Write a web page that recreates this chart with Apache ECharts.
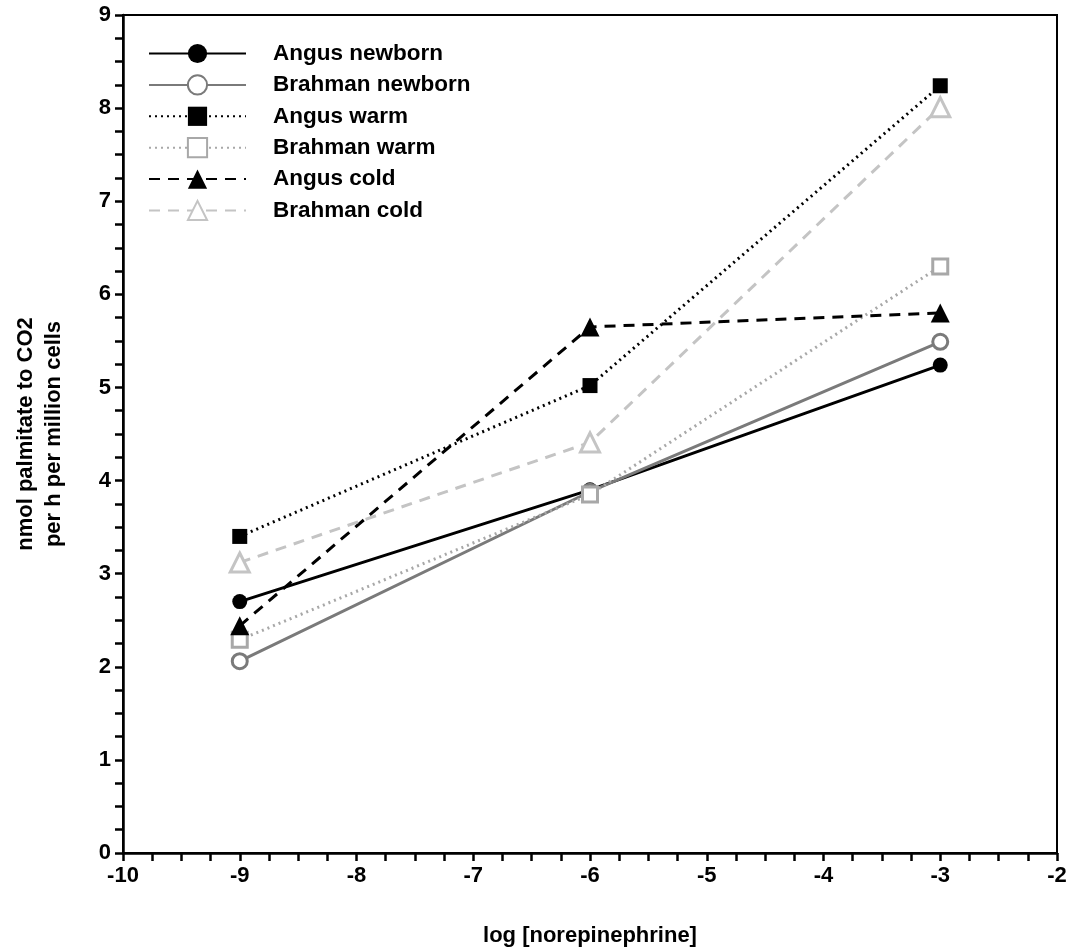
<!DOCTYPE html>
<html>
<head>
<meta charset="utf-8">
<script src="https://cdn.jsdelivr.net/npm/echarts@6/dist/echarts.min.js"></script>
<style>
  html, body { margin: 0; padding: 0; background: #fff; }
  #chart { width: 1070px; height: 952px; }
</style>
</head>
<body>
<div id="chart"></div>
<script>
// log [norepinephrine] doses
const doses = [-9, -6, -3];
const angusNewborn = [2.70, 3.90, 5.24];
const brahmanNewborn = [2.06, 3.88, 5.49];
const angusWarm = [3.40, 5.02, 8.24];
const brahmanWarm = [2.29, 3.85, 6.30];
const angusCold = [2.44, 5.65, 5.80];
const brahmanCold = [3.12, 4.41, 8.01];

const font = "'Liberation Sans', Arial, sans-serif";

function pts(vals) {
  return doses.map((d, i) => [d, vals[i]]);
}

function makeSeries(name, vals, color, dash, symbol, size, hollow) {
  return {
    name: name,
    type: "line",
    data: pts(vals),
    symbol: symbol,
    symbolSize: size,
    showSymbol: true,
    lineStyle: { color: color, width: 3, type: dash },
    itemStyle: {
      color: hollow ? "#fff" : color,
      borderColor: color,
      borderWidth: hollow ? 3 : 0,
    },
    emphasis: { disabled: true },
    z: 3,
  };
}

const chart = echarts.init(document.getElementById("chart"));
const option = {
  animation: false,
  textStyle: { fontFamily: font },
  grid: {
    left: 123,
    right: 13,
    top: 15,
    bottom: 95,
    show: true,
    borderColor: "#000",
    borderWidth: 2,
  },
  legend: {
    orient: "vertical",
    left: 143,
    top: 37,
    itemWidth: 97,
    itemHeight: 24,
    itemGap: 8.4,
    textStyle: {
      fontFamily: font,
      fontWeight: "bold",
      fontSize: 22.5,
      color: "#000",
      padding: [0, 0, 0, 22],
    },
    data: ["Angus newborn", "Brahman newborn", "Angus warm", "Brahman warm", "Angus cold", "Brahman cold"],
  },
  xAxis: {
    type: "value",
    min: -10,
    max: -2,
    interval: 1,
    name: "log [norepinephrine]",
    nameLocation: "middle",
    nameGap: 72,
    nameTextStyle: { fontFamily: font, fontWeight: "bold", fontSize: 22, color: "#000" },
    axisLine: { show: true, lineStyle: { color: "#000", width: 2.5 } },
    axisTick: { show: true, inside: false, length: 8, lineStyle: { color: "#000", width: 2.5 } },
    minorTick: { show: true, splitNumber: 4, length: 8, lineStyle: { color: "#000", width: 2.5 } },
    axisLabel: { fontFamily: font, fontWeight: "bold", fontSize: 22, color: "#000", margin: 12 },
    splitLine: { show: false },
  },
  yAxis: {
    type: "value",
    min: 0,
    max: 9,
    interval: 1,
    name: "nmol palmitate to CO2\nper h per million cells",
    nameLocation: "middle",
    nameGap: 55,
    nameTextStyle: { fontFamily: font, fontWeight: "bold", fontSize: 22, color: "#000", lineHeight: 28 },
    axisLine: { show: true, lineStyle: { color: "#000", width: 2.5 } },
    axisTick: { show: true, inside: false, length: 8, lineStyle: { color: "#000", width: 2.5 } },
    minorTick: { show: true, splitNumber: 4, length: 8, lineStyle: { color: "#000", width: 2.5 } },
    axisLabel: { fontFamily: font, fontWeight: "bold", fontSize: 22, color: "#000", margin: 12 },
    splitLine: { show: false },
  },
  series: [
    makeSeries("Angus newborn", angusNewborn, "#000000", "solid", "circle", 15, false),
    makeSeries("Brahman newborn", brahmanNewborn, "#7a7a7a", "solid", "circle", 15, true),
    makeSeries("Angus warm", angusWarm, "#000000", [2, 4], "rect", 15, false),
    makeSeries("Brahman warm", brahmanWarm, "#a8a8a8", [2, 4], "rect", 15, true),
    makeSeries("Angus cold", angusCold, "#000000", [11, 8], "triangle", 19, false),
    makeSeries("Brahman cold", brahmanCold, "#c4c4c4", [11, 8], "triangle", 19, true),
  ],
};
chart.setOption(option);
</script>
</body>
</html>
